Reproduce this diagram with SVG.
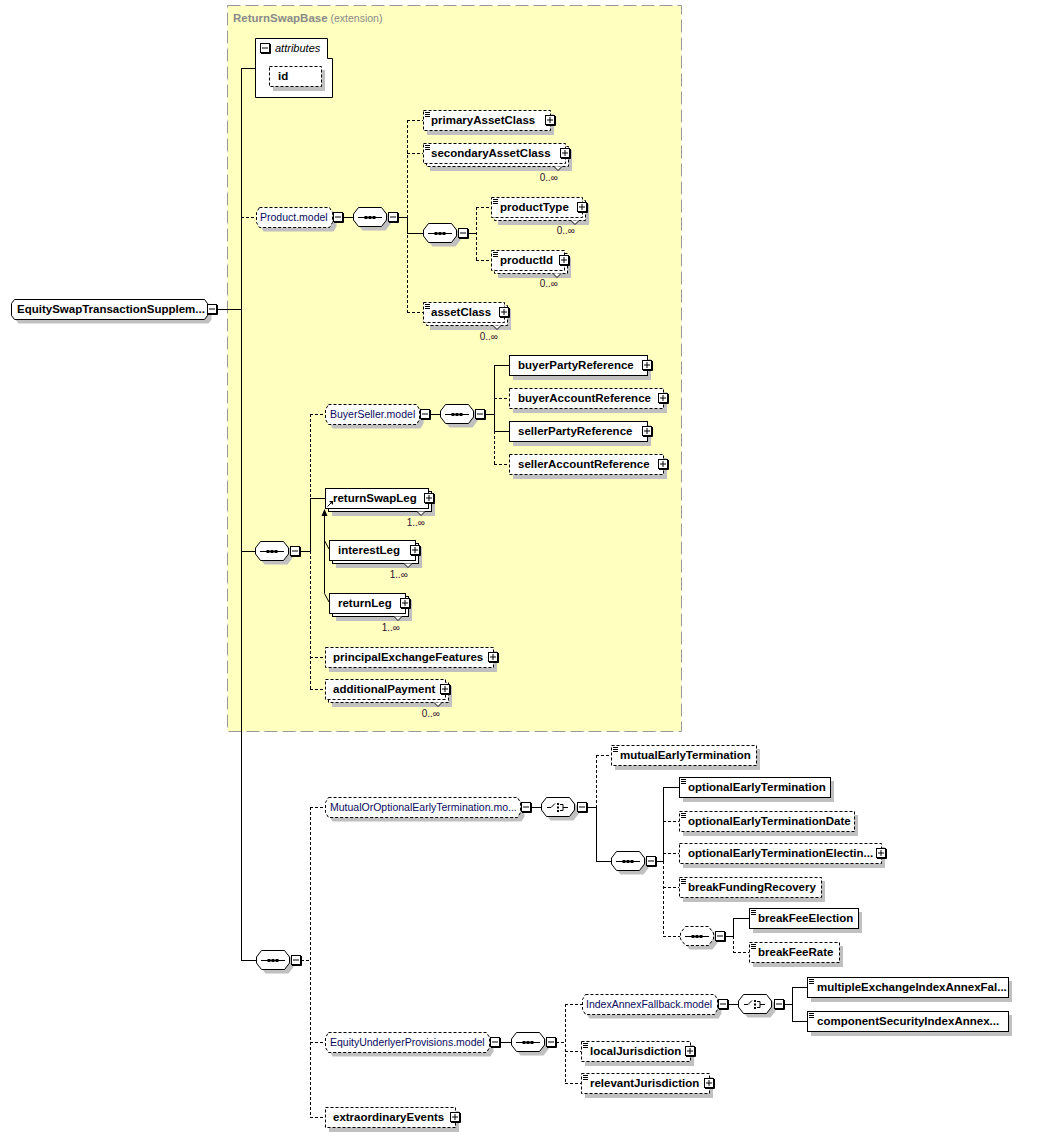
<svg xmlns="http://www.w3.org/2000/svg" width="1037" height="1137" viewBox="0 0 1037 1137">
<style>
.sh{fill:#c0c0c0}
.bx{fill:#fff;stroke:#000;stroke-width:1}
.dz{stroke-dasharray:3,2}
.t{font-family:'Liberation Sans',Arial,sans-serif;font-weight:bold;font-size:11.5px;fill:#000}
.m{font-family:'Liberation Sans',Arial,sans-serif;font-size:10.5px;fill:#0a0a60}
.o{font-family:'Liberation Sans',Arial,sans-serif;font-size:10px;fill:#301030}
.it{font-family:'Liberation Sans',Arial,sans-serif;font-style:italic;font-size:11px;fill:#000}
.ttl{font-family:'Liberation Sans',Arial,sans-serif;font-size:11.5px;fill:#8a8a8a}
.cs{fill:none;stroke:#000;stroke-width:1}
.cd{fill:none;stroke:#000;stroke-width:1;stroke-dasharray:3,2}
.nt{fill:#fff;stroke:#000;stroke-width:1}
</style>
<defs>
<g id="mn"><rect x="0.5" y="0.5" width="9" height="9" fill="#fff" stroke="#000"/><path d="M10.5,1V10.5H1" fill="none" stroke="#000"/><path d="M2,5H8" stroke="#000"/></g>
<g id="pl"><rect x="0.5" y="0.5" width="9" height="9" fill="#fff" stroke="#000"/><path d="M10.5,1V10.5H1" fill="none" stroke="#000"/><path d="M2,5H8M5,2V8" stroke="#000"/></g>
<g id="eq"><path d="M0,0.5H5M0,2.5H5M0,4.5H5" stroke="#000" fill="none"/></g>
<path id="oct" d="M5.5,0.5H28.5L33.5,7V13L28.5,19.5H5.5L0.5,13V7Z"/>
<g id="seq"><use href="#oct" class="sh" transform="translate(4,4)"/><use href="#oct" class="bx"/><path d="M5,10.5H29" stroke="#000"/><rect x="11.5" y="9" width="3" height="3"/><rect x="15.5" y="9" width="3" height="3"/><rect x="19.5" y="9" width="3" height="3"/></g>
<g id="seqd"><use href="#oct" class="sh" transform="translate(4,4)"/><use href="#oct" class="bx dz"/><path d="M5,10.5H29" stroke="#000"/><rect x="11.5" y="9" width="3" height="3"/><rect x="15.5" y="9" width="3" height="3"/><rect x="19.5" y="9" width="3" height="3"/></g>
<g id="cho"><use href="#oct" class="sh" transform="translate(4,4)"/><use href="#oct" class="bx"/><path d="M6,10.5H10L14,6.5M19,7.5H22V13.5H19M22,10.5H27" stroke="#000" fill="none"/><rect x="16" y="6" width="2" height="2"/><rect x="16" y="9.5" width="2" height="2"/><rect x="16" y="13" width="2" height="2"/></g>
</defs>

<g id="extension-box">
<rect x="227.5" y="5.5" width="454" height="726" fill="#ffffc0" stroke="#999" stroke-dasharray="13,5"/>
<text class="ttl" x="233" y="22"><tspan font-weight="bold">ReturnSwapBase</tspan><tspan font-size="10.5px"> (extension)</tspan></text>
</g>

<g id="connectors">
<path class="cs" d="M241.5,68V960.5M241,68.5H255M217,309.5H241M241,551.5H255M241,960.5H256M343,217.5H353M398,217.5H407M407.5,217V233.5M407,233.5H423M468,233.5H476M430,414.5H440M485,414.5H494M494.5,365V431.5M494,365.5H509M494,431.5H509M300,551.5H310M310.5,498V551.5M310,498.5H325M324.5,514V593.5M324.5,540.5L329,549M324.5,593.5L329,602M531,807.5H541M587,807.5H596M596.5,807V861.5M596,861.5H611M656,861.5H663M663.5,787V861.5M663,787.5H679M725,936.5H733M733.5,918V936.5M733,918.5H749M500,1042.5H511M728,1004.5H738M784,1004.5H792M792.5,987V1021.5M792,987.5H807M792,1021.5H807"/>
<path class="cd" d="M241,217.5H256M407.5,120V312.5M407,120.5H423M407,153.5H423M407,312.5H423M476.5,207V260.5M476,207.5H491M476,260.5H491M310.5,414V498M310,414.5H325M310.5,551V689.5M310,657.5H325M310,689.5H325M494.5,431V464.5M494,398.5H509M494,464.5H509M301,960.5H310M310.5,807V1117.5M310,807.5H325M310,1042.5H325M310,1117.5H325M596.5,755V807M596,755.5H611M663.5,861V936.5M663,821.5H679M663,853.5H679M663,887.5H679M663,936.5H680M733.5,936V952.5M733,952.5H749M556,1042.5H565M565.5,1004V1083.5M565,1004.5H582M565,1051.5H581M565,1083.5H581"/>
<polygon points="324.5,509 321.5,516 327.5,516" fill="#000"/>
</g>

<g id="n-root">
<path class="sh" transform="translate(4,4)" d="M14.5,299.5H204.5L207.5,303.5V315.5L204.5,319.5H14.5L11.5,315.5V303.5Z"/>
<path class="bx" d="M14.5,299.5H204.5L207.5,303.5V315.5L204.5,319.5H14.5L11.5,315.5V303.5Z"/>
<text class="t" x="17" y="313">EquitySwapTransactionSupplem...</text>
<use href="#mn" x="207" y="304"/>
</g>

<g id="n-attributes">
<path class="bx" d="M255.5,38.5H327.5V58.5H332.5V97.5H255.5Z"/>
<use href="#mn" x="260" y="43"/>
<text class="it" x="275" y="52">attributes</text>
</g>
<g id="n-id">
<rect class="sh" x="273" y="70" width="52" height="21"/>
<rect class="bx dz" x="269.5" y="66.5" width="52" height="20"/>
<text class="t" x="278" y="80">id</text>
</g>

<g id="n-product-model">
<path class="sh" transform="translate(4,4)" d="M259.5,207.5H329.5L332.5,212.5V222.5L329.5,227.5H259.5L256.5,222.5V212.5Z"/>
<path class="bx dz" d="M259.5,207.5H329.5L332.5,212.5V222.5L329.5,227.5H259.5L256.5,222.5V212.5Z"/>
<text class="m" x="260" y="221">Product.model</text>
<use href="#mn" x="333" y="212"/>
</g>
<g id="n-product-seq"><use href="#seq" x="353" y="207"/><use href="#mn" x="388" y="212"/></g>

<g id="n-primaryAssetClass">
<rect class="sh" x="427" y="114" width="127" height="21"/>
<rect class="bx dz" x="423.5" y="110.5" width="127" height="20"/>
<use href="#eq" x="425" y="112"/>
<text class="t" x="431" y="124">primaryAssetClass</text>
<use href="#pl" x="545" y="115"/>
</g>

<g id="n-secondaryAssetClass">
<rect class="sh" x="430" y="150" width="142" height="21"/>
<rect class="bx dz" x="426.5" y="146.5" width="142" height="20"/>
<path class="nt" d="M554,166.5L558,170.5L562,166.5"/>
<rect class="bx dz" x="423.5" y="143.5" width="142" height="20"/>
<use href="#eq" x="425" y="145"/>
<text class="t" x="431" y="157">secondaryAssetClass</text>
<use href="#pl" x="560" y="148"/>
<text class="o" x="558" y="181" text-anchor="end">0..∞</text>
</g>

<g id="n-product-seq2"><use href="#seq" x="423" y="223"/><use href="#mn" x="458" y="228"/></g>

<g id="n-productType">
<rect class="sh" x="498" y="204" width="91" height="21"/>
<rect class="bx dz" x="494.5" y="200.5" width="91" height="20"/>
<path class="nt" d="M571,220.5L575,224.5L579,220.5"/>
<rect class="bx dz" x="491.5" y="197.5" width="91" height="20"/>
<use href="#eq" x="493" y="199"/>
<text class="t" x="500" y="211">productType</text>
<use href="#pl" x="577" y="202"/>
<text class="o" x="575" y="234" text-anchor="end">0..∞</text>
</g>

<g id="n-productId">
<rect class="sh" x="498" y="257" width="73" height="21"/>
<rect class="bx dz" x="494.5" y="253.5" width="73" height="20"/>
<path class="nt" d="M553,273.5L557,277.5L561,273.5"/>
<rect class="bx dz" x="491.5" y="250.5" width="73" height="20"/>
<use href="#eq" x="493" y="252"/>
<text class="t" x="500" y="264">productId</text>
<use href="#pl" x="559" y="255"/>
<text class="o" x="558" y="287" text-anchor="end">0..∞</text>
</g>

<g id="n-assetClass">
<rect class="sh" x="430" y="309" width="81" height="21"/>
<rect class="bx dz" x="426.5" y="305.5" width="81" height="20"/>
<path class="nt" d="M493,325.5L497,329.5L501,325.5"/>
<rect class="bx dz" x="423.5" y="302.5" width="81" height="20"/>
<use href="#eq" x="425" y="304"/>
<text class="t" x="431" y="316">assetClass</text>
<use href="#pl" x="499" y="307"/>
<text class="o" x="498" y="340" text-anchor="end">0..∞</text>
</g>

<g id="n-buyerseller-model">
<path class="sh" transform="translate(4,4)" d="M328.5,404.5H416.5L419.5,409.5V419.5L416.5,424.5H328.5L325.5,419.5V409.5Z"/>
<path class="bx dz" d="M328.5,404.5H416.5L419.5,409.5V419.5L416.5,424.5H328.5L325.5,419.5V409.5Z"/>
<text class="m" x="330" y="418">BuyerSeller.model</text>
<use href="#mn" x="420" y="409"/>
</g>
<g id="n-buyerseller-seq"><use href="#seq" x="440" y="404"/><use href="#mn" x="475" y="409"/></g>

<g id="n-buyerPartyReference">
<rect class="sh" x="513" y="359" width="138" height="21"/>
<rect class="bx" x="509.5" y="355.5" width="138" height="20"/>
<text class="t" x="518" y="369">buyerPartyReference</text>
<use href="#pl" x="642" y="360"/>
</g>
<g id="n-buyerAccountReference">
<rect class="sh" x="513" y="392" width="154" height="21"/>
<rect class="bx dz" x="509.5" y="388.5" width="154" height="20"/>
<text class="t" x="518" y="402">buyerAccountReference</text>
<use href="#pl" x="658" y="393"/>
</g>
<g id="n-sellerPartyReference">
<rect class="sh" x="513" y="425" width="138" height="21"/>
<rect class="bx" x="509.5" y="421.5" width="138" height="20"/>
<text class="t" x="518" y="435">sellerPartyReference</text>
<use href="#pl" x="642" y="426"/>
</g>
<g id="n-sellerAccountReference">
<rect class="sh" x="513" y="458" width="154" height="21"/>
<rect class="bx dz" x="509.5" y="454.5" width="154" height="20"/>
<text class="t" x="518" y="468">sellerAccountReference</text>
<use href="#pl" x="658" y="459"/>
</g>

<g id="n-leg-seq"><use href="#seq" x="255" y="541"/><use href="#mn" x="290" y="546"/></g>

<g id="n-returnSwapLeg">
<rect class="sh" x="332" y="495" width="103" height="21"/>
<rect class="bx" x="328.5" y="491.5" width="103" height="20"/>
<path class="nt" d="M417,511.5L421,515.5L425,511.5"/>
<rect class="bx" x="325.5" y="488.5" width="103" height="20"/>
<path d="M327.5,506.5L331,503" stroke="#000" fill="none"/>
<polygon points="329,501 333,501 333,505" fill="#000"/>
<text class="t" x="333" y="502">returnSwapLeg</text>
<use href="#pl" x="424" y="493"/>
<text class="o" x="425" y="526" text-anchor="end">1..∞</text>
</g>

<g id="n-interestLeg">
<rect class="sh" x="336" y="547" width="86" height="21"/>
<rect class="bx" x="332.5" y="543.5" width="86" height="20"/>
<path class="nt" d="M404,563.5L408,567.5L412,563.5"/>
<rect class="bx" x="329.5" y="540.5" width="86" height="20"/>
<text class="t" x="338" y="554">interestLeg</text>
<use href="#pl" x="410" y="545"/>
<text class="o" x="408" y="578" text-anchor="end">1..∞</text>
</g>

<g id="n-returnLeg">
<rect class="sh" x="336" y="600" width="76" height="21"/>
<rect class="bx" x="332.5" y="596.5" width="76" height="20"/>
<path class="nt" d="M394,616.5L398,620.5L402,616.5"/>
<rect class="bx" x="329.5" y="593.5" width="76" height="20"/>
<text class="t" x="338" y="607">returnLeg</text>
<use href="#pl" x="400" y="598"/>
<text class="o" x="400" y="631" text-anchor="end">1..∞</text>
</g>

<g id="n-principalExchangeFeatures">
<rect class="sh" x="329" y="651" width="168" height="21"/>
<rect class="bx dz" x="325.5" y="647.5" width="168" height="20"/>
<text class="t" x="333" y="661">principalExchangeFeatures</text>
<use href="#pl" x="488" y="652"/>
</g>

<g id="n-additionalPayment">
<rect class="sh" x="332" y="686" width="120" height="21"/>
<rect class="bx dz" x="328.5" y="682.5" width="120" height="20"/>
<path class="nt" d="M434,702.5L438,706.5L442,702.5"/>
<rect class="bx dz" x="325.5" y="679.5" width="120" height="20"/>
<text class="t" x="333" y="693">additionalPayment</text>
<use href="#pl" x="440" y="684"/>
<text class="o" x="440" y="717" text-anchor="end">0..∞</text>
</g>

<g id="n-bottom-seq"><use href="#seq" x="256" y="950"/><use href="#mn" x="291" y="955"/></g>

<g id="n-mutualoroptional-model">
<path class="sh" transform="translate(4,4)" d="M328.5,797.5H517.5L520.5,802.5V812.5L517.5,817.5H328.5L325.5,812.5V802.5Z"/>
<path class="bx dz" d="M328.5,797.5H517.5L520.5,802.5V812.5L517.5,817.5H328.5L325.5,812.5V802.5Z"/>
<text class="m" x="330" y="811">MutualOrOptionalEarlyTermination.mo...</text>
<use href="#mn" x="521" y="802"/>
</g>
<g id="n-mutual-choice"><use href="#cho" x="541" y="797"/><use href="#mn" x="577" y="802"/></g>

<g id="n-mutualEarlyTermination">
<rect class="sh" x="615" y="749" width="145" height="21"/>
<rect class="bx dz" x="611.5" y="745.5" width="145" height="20"/>
<use href="#eq" x="613" y="747"/>
<text class="t" x="620" y="759">mutualEarlyTermination</text>
</g>

<g id="n-optional-seq"><use href="#seq" x="611" y="851"/><use href="#mn" x="646" y="856"/></g>

<g id="n-optionalEarlyTermination">
<rect class="sh" x="683" y="781" width="151" height="21"/>
<rect class="bx" x="679.5" y="777.5" width="151" height="20"/>
<use href="#eq" x="681" y="779"/>
<text class="t" x="688" y="791">optionalEarlyTermination</text>
</g>
<g id="n-optionalEarlyTerminationDate">
<rect class="sh" x="683" y="815" width="175" height="21"/>
<rect class="bx dz" x="679.5" y="811.5" width="175" height="20"/>
<use href="#eq" x="681" y="813"/>
<text class="t" x="688" y="825">optionalEarlyTerminationDate</text>
</g>
<g id="n-optionalEarlyTerminationElecting">
<rect class="sh" x="683" y="847" width="202" height="21"/>
<rect class="bx dz" x="679.5" y="843.5" width="202" height="20"/>
<text class="t" x="688" y="857">optionalEarlyTerminationElectin...</text>
<use href="#pl" x="876" y="848"/>
</g>
<g id="n-breakFundingRecovery">
<rect class="sh" x="683" y="881" width="142" height="21"/>
<rect class="bx dz" x="679.5" y="877.5" width="142" height="20"/>
<use href="#eq" x="681" y="879"/>
<text class="t" x="688" y="891">breakFundingRecovery</text>
</g>

<g id="n-breakfee-seq"><use href="#seqd" x="680" y="926"/><use href="#mn" x="715" y="931"/></g>

<g id="n-breakFeeElection">
<rect class="sh" x="753" y="912" width="109" height="21"/>
<rect class="bx" x="749.5" y="908.5" width="109" height="20"/>
<use href="#eq" x="751" y="910"/>
<text class="t" x="758" y="922">breakFeeElection</text>
</g>
<g id="n-breakFeeRate">
<rect class="sh" x="753" y="946" width="90" height="21"/>
<rect class="bx dz" x="749.5" y="942.5" width="90" height="20"/>
<use href="#eq" x="751" y="944"/>
<text class="t" x="758" y="956">breakFeeRate</text>
</g>

<g id="n-equityunderlyer-model">
<path class="sh" transform="translate(4,4)" d="M328.5,1032.5H486.5L489.5,1037.5V1047.5L486.5,1052.5H328.5L325.5,1047.5V1037.5Z"/>
<path class="bx dz" d="M328.5,1032.5H486.5L489.5,1037.5V1047.5L486.5,1052.5H328.5L325.5,1047.5V1037.5Z"/>
<text class="m" x="330" y="1046">EquityUnderlyerProvisions.model</text>
<use href="#mn" x="490" y="1037"/>
</g>
<g id="n-equityunderlyer-seq"><use href="#seq" x="511" y="1032"/><use href="#mn" x="546" y="1037"/></g>

<g id="n-indexannex-model">
<path class="sh" transform="translate(4,4)" d="M585.5,994.5H714.5L717.5,999.5V1009.5L714.5,1014.5H585.5L582.5,1009.5V999.5Z"/>
<path class="bx dz" d="M585.5,994.5H714.5L717.5,999.5V1009.5L714.5,1014.5H585.5L582.5,1009.5V999.5Z"/>
<text class="m" x="586" y="1008">IndexAnnexFallback.model</text>
<use href="#mn" x="718" y="999"/>
</g>
<g id="n-indexannex-choice"><use href="#cho" x="738" y="994"/><use href="#mn" x="774" y="999"/></g>

<g id="n-multipleExchangeIndexAnnexFallback">
<rect class="sh" x="811" y="981" width="201" height="21"/>
<rect class="bx" x="807.5" y="977.5" width="201" height="20"/>
<use href="#eq" x="809" y="979"/>
<text class="t" x="817" y="991">multipleExchangeIndexAnnexFal...</text>
</g>
<g id="n-componentSecurityIndexAnnex">
<rect class="sh" x="811" y="1015" width="201" height="21"/>
<rect class="bx" x="807.5" y="1011.5" width="201" height="20"/>
<use href="#eq" x="809" y="1013"/>
<text class="t" x="817" y="1025">componentSecurityIndexAnnex...</text>
</g>

<g id="n-localJurisdiction">
<rect class="sh" x="585" y="1045" width="109" height="21"/>
<rect class="bx dz" x="581.5" y="1041.5" width="109" height="20"/>
<use href="#eq" x="583" y="1043"/>
<text class="t" x="590" y="1055">localJurisdiction</text>
<use href="#pl" x="685" y="1046"/>
</g>
<g id="n-relevantJurisdiction">
<rect class="sh" x="585" y="1077" width="128" height="21"/>
<rect class="bx dz" x="581.5" y="1073.5" width="128" height="20"/>
<use href="#eq" x="583" y="1075"/>
<text class="t" x="590" y="1087">relevantJurisdiction</text>
<use href="#pl" x="704" y="1078"/>
</g>

<g id="n-extraordinaryEvents">
<rect class="sh" x="329" y="1111" width="130" height="21"/>
<rect class="bx dz" x="325.5" y="1107.5" width="130" height="20"/>
<text class="t" x="333" y="1121">extraordinaryEvents</text>
<use href="#pl" x="450" y="1112"/>
</g>
</svg>
